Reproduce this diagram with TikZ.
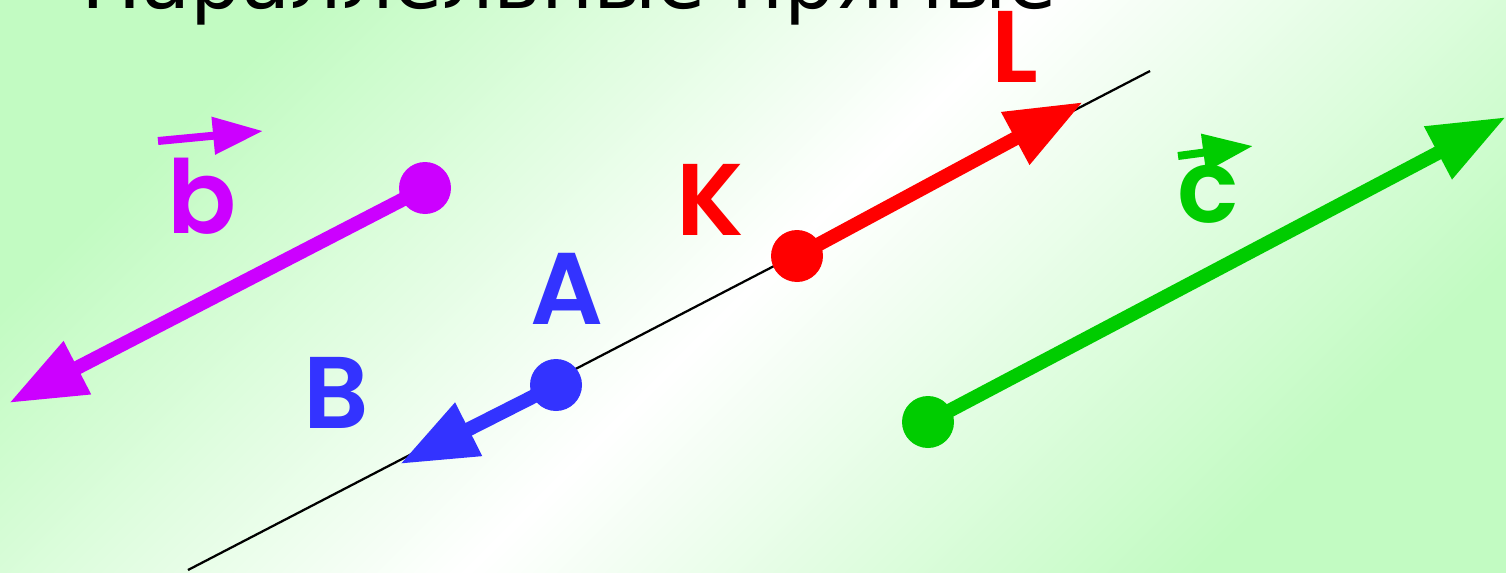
\documentclass[tikz,border=0pt]{standalone}
\usepackage{fontspec}
\usepackage{graphicx}
\setmainfont{DejaVu Sans}
\newfontfamily\labfont{Poppins}[UprightFont={* SemiBold}]
\usetikzlibrary{arrows.meta}
\definecolor{vpurple}{RGB}{204,0,255}
\definecolor{vblue}{RGB}{51,51,255}
\definecolor{vred}{RGB}{255,0,0}
\definecolor{vgreen}{RGB}{0,204,0}
\definecolor{bggreen}{RGB}{194,251,194}
\tikzset{
  vecline/.style={line width=0.28cm, -{Triangle[length=1.54cm,width=1.12cm]}},
  overline/.style={line width=0.16cm, -{Triangle[length=1.0cm,width=0.72cm]}},
  dotnode/.style={circle, inner sep=0pt, minimum size=1.04cm},
  lab/.style={font=\labfont\fontsize{58}{60}\selectfont, inner sep=0pt},
}
\begin{document}
\begin{tikzpicture}[x=0.02cm,y=-0.02cm]
\path[use as bounding box] (0,0) rectangle (1506,572);
\clip (0,0) rectangle (1506,572);
\shade[left color=bggreen, right color=bggreen, middle color=white, shading angle=45] (0,0) rectangle (1506,572);
% title (cropped at the top edge)
\node[anchor=base west, inner sep=0pt] (title) at (81,8) {\resizebox{555pt}{!}{\fontsize{55}{60}\selectfont Параллельные прямые}};
% line
\coordinate (l1) at (188,570);
\coordinate (l2) at (1150,71);
\draw[line width=0.045cm] (l1) -- (l2);
% purple b
\node[dotnode, fill=vpurple] (bS) at (425,188) {};
\coordinate (bE) at (9,403);
\draw[vecline, vpurple] (bS.center) -- (bE);
% blue AB
\node[dotnode, fill=vblue] (A) at (556,385) {};
\coordinate (B) at (400,464);
\draw[vecline, vblue] (A.center) -- (B);
% red KL
\node[dotnode, fill=vred] (K) at (797,256) {};
\coordinate (L) at (1083,102);
\draw[vecline, vred] (K.center) -- (L);
% green c
\node[dotnode, fill=vgreen] (cS) at (928,422) {};
\coordinate (cE) at (1506,117);
\draw[vecline, vgreen] (cS.center) -- (cE);
% labels
\node[lab, text=vpurple] (lb) at (202,196) {b};
\coordinate (bv1) at (158,141);
\coordinate (bv2) at (263,131);
\draw[overline, vpurple] (bv1) -- (bv2);
\node[lab, text=vgreen] (lc) at (1208,194) {c};
\coordinate (cv1) at (1178,156);
\coordinate (cv2) at (1253,146);
\draw[overline, vgreen] (cv1) -- (cv2);
\node[lab, text=vred] (lL) at (1015,47) {L};
\node[lab, text=vred] (lK) at (710,200) {K};
\node[lab, text=vblue] (lA) at (567,289) {A};
\node[lab, text=vblue] (lB) at (336,393) {B};
\end{tikzpicture}
\end{document}
